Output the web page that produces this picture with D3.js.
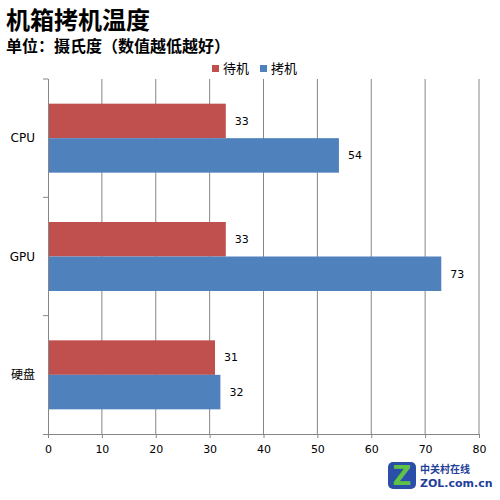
<!doctype html>
<html lang="zh">
<head>
  <meta charset="UTF-8" />
  <script src="https://cdn.jsdelivr.net/npm/d3@7"></script>
  <style>
    body { margin: 0; background: #fff; }
    text { font-family: "DejaVu Sans", Verdana, sans-serif; }
    .cjk { font-family: "Noto Sans CJK SC", sans-serif; }
    .grid line { stroke: #868686; stroke-width: 1; }
    .axis path, .axis line { stroke: #868686; }
  </style>
  <title>机箱拷机温度</title>
</head>
<body>
  <script>
    var categories = ["CPU", "GPU", "硬盘"];
    var seriesNames = ["待机", "拷机"];
    var idleValues = [33, 33, 31];
    var loadValues = [54, 73, 32];
    var xTicks = [0, 10, 20, 30, 40, 50, 60, 70, 80];
    var colors = ["#C0504D", "#4F81BD"];

    var svg = d3.select("body").append("svg")
      .attr("width", 500).attr("height", 500);

    var plotLeft = 48, plotRight = 479, plotTop = 79, plotBottom = 434;

    var x = d3.scaleLinear().domain([0, 80]).range([plotLeft, plotRight]);
    var y = d3.scaleBand().domain(categories).range([plotTop, plotBottom]);
    var inner = d3.scaleBand().domain(seriesNames)
      .range([0, y.bandwidth()]).paddingOuter(0.715);

    // title
    svg.append("text").attr("class", "cjk")
      .attr("x", 6).attr("y", 29)
      .style("font-size", "24px").style("font-weight", "bold")
      .text("机箱拷机温度");
    svg.append("text").attr("class", "cjk")
      .attr("x", 6).attr("y", 52)
      .style("font-size", "16px").style("font-weight", "bold")
      .text("单位：摄氏度（数值越低越好）");

    // legend
    var legend = svg.append("g");
    seriesNames.forEach(function (s, i) {
      var lx = 212 + i * 48;
      legend.append("rect").attr("x", lx).attr("y", 65)
        .attr("width", 7).attr("height", 7).attr("fill", colors[i]);
      legend.append("text").attr("class", "cjk")
        .attr("x", lx + 11).attr("y", 73)
        .style("font-size", "13px").text(s);
    });

    // gridlines
    svg.append("g").attr("class", "grid").selectAll("line")
      .data(xTicks.slice(1))
      .enter().append("line")
      .attr("x1", function (d) { return x(d); })
      .attr("x2", function (d) { return x(d); })
      .attr("y1", plotTop).attr("y2", plotBottom);

    // bars
    var rows = categories.map(function (c, i) {
      return { cat: c, vals: [idleValues[i], loadValues[i]] };
    });
    var groups = svg.append("g").selectAll("g")
      .data(rows).enter().append("g")
      .attr("transform", function (d) { return "translate(0," + y(d.cat) + ")"; });

    groups.selectAll("rect")
      .data(function (d) { return d.vals.map(function (v, i) { return { s: seriesNames[i], v: v, i: i }; }); })
      .enter().append("rect")
      .attr("x", x(0))
      .attr("y", function (d) { return inner(d.s); })
      .attr("width", function (d) { return x(d.v) - x(0); })
      .attr("height", inner.bandwidth())
      .attr("fill", function (d) { return colors[d.i]; });

    groups.selectAll("text")
      .data(function (d) { return d.vals.map(function (v, i) { return { s: seriesNames[i], v: v }; }); })
      .enter().append("text")
      .attr("x", function (d) { return x(d.v) + 9; })
      .attr("y", function (d) { return inner(d.s) + inner.bandwidth() / 2; })
      .attr("dy", "0.35em")
      .style("font-size", "11px").attr("fill", "#000")
      .text(function (d) { return d.v; });

    // x axis
    var xAxis = svg.append("g").attr("class", "axis")
      .attr("transform", "translate(0," + plotBottom + ")")
      .call(d3.axisBottom(x).tickValues(xTicks).tickSize(4).tickSizeOuter(0));
    xAxis.select(".domain").attr("d", "M" + (plotLeft - 5) + ",0.5H" + plotRight);
    xAxis.selectAll("text").style("font-size", "11px").attr("fill", "#000")
      .attr("dy", "1.1em");

    // y axis
    var yAxis = svg.append("g")
      .attr("transform", "translate(" + plotLeft + ",0)");
    yAxis.append("line").attr("x1", 0.5).attr("x2", 0.5)
      .attr("y1", plotTop).attr("y2", plotBottom).attr("stroke", "#868686");
    yAxis.selectAll(".tk")
      .data([plotTop].concat(categories.slice(1).map(function (c) { return y(c); })))
      .enter().append("line").attr("class", "tk")
      .attr("x1", -5).attr("x2", 0)
      .attr("y1", function (d) { return d; }).attr("y2", function (d) { return d; })
      .attr("stroke", "#868686");
    yAxis.selectAll("text")
      .data(categories).enter().append("text")
      .attr("class", function (d) { return /[^\x00-\x7f]/.test(d) ? "cjk" : null; })
      .attr("x", -13)
      .attr("y", function (d) { return y(d) + y.bandwidth() / 2; })
      .attr("dy", "0.35em").attr("text-anchor", "end")
      .style("font-size", "12px")
      .text(function (d) { return d; });

    // ZOL logo
    var logo = svg.append("g").attr("transform", "translate(388,462)");
    logo.append("rect").attr("width", 28).attr("height", 27).attr("rx", 5)
      .attr("fill", "#2b4fa8");
    logo.append("text").attr("x", 14).attr("y", 23).attr("text-anchor", "middle")
      .style("font-size", "26px").style("font-weight", "bold").attr("fill", "#5fc247")
      .text("Z");
    logo.append("text").attr("class", "cjk").attr("x", 32).attr("y", 11)
      .style("font-size", "10px").style("font-weight", "bold").attr("fill", "#1f3f9a")
      .text("中关村在线");
    logo.append("text").attr("x", 32).attr("y", 25)
      .style("font-size", "11px").style("font-weight", "bold").attr("fill", "#1f3f9a")
      .text("ZOL.com.cn");
  </script>
</body>
</html>
